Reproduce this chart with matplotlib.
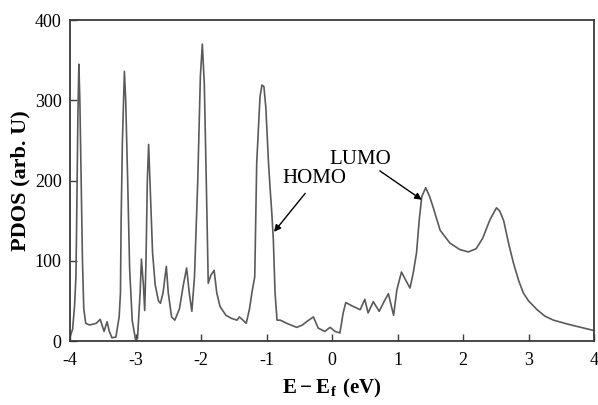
import matplotlib
matplotlib.use("Agg")
import matplotlib.pyplot as plt

plt.rcParams["font.family"] = "Liberation Serif"
plt.rcParams["axes.unicode_minus"] = False
plt.rcParams["mathtext.fontset"] = "custom"
plt.rcParams["mathtext.rm"] = "Liberation Serif:bold"
plt.rcParams["mathtext.bf"] = "Liberation Serif:bold"

# ── Data ──────────────────────────────────────────────────────────────────────
ENERGY = [
    -4.00, -3.96, -3.93, -3.91, -3.90, -3.88, -3.865, -3.85, -3.83, -3.81,
    -3.79, -3.76, -3.70, -3.60, -3.54, -3.48, -3.435, -3.40, -3.36, -3.30,
    -3.25, -3.23, -3.22, -3.20, -3.17, -3.15, -3.12, -3.09, -3.05, -3.00,
    -2.97, -2.93, -2.91, -2.88, -2.86, -2.84, -2.82, -2.80, -2.78, -2.74,
    -2.70, -2.65, -2.62, -2.58, -2.53, -2.50, -2.45, -2.40, -2.33, -2.27,
    -2.22, -2.18, -2.14, -2.10, -2.05, -2.01, -1.98, -1.95, -1.92, -1.89,
    -1.85, -1.80, -1.76, -1.71, -1.62, -1.53, -1.45, -1.415, -1.36, -1.31,
    -1.26, -1.22, -1.18, -1.15, -1.10, -1.07, -1.04, -1.01, -0.97, -0.947,
    -0.92, -0.896, -0.87, -0.84, -0.79, -0.69, -0.54, -0.45, -0.39, -0.285,
    -0.21, -0.16, -0.11, -0.03, 0.046, 0.12, 0.17, 0.21, 0.30, 0.43,
    0.50, 0.55, 0.63, 0.72, 0.80, 0.86, 0.94, 0.99, 1.06, 1.13,
    1.19, 1.24, 1.29, 1.33, 1.37, 1.43, 1.49, 1.55, 1.65, 1.80,
    1.95, 2.08, 2.20, 2.30, 2.41, 2.51, 2.56, 2.62, 2.70, 2.77,
    2.85, 2.92, 3.00, 3.13, 3.25, 3.38, 3.60, 3.80, 4.00,
]
PDOS = [
    5, 15, 45, 80, 140, 280, 345, 300, 200, 100,
    40, 22, 20, 22, 27, 12, 24, 12, 4, 5,
    30, 60, 150, 250, 336, 300, 200, 90, 25, 2,
    3, 60, 102, 70, 38, 100, 200, 245, 200, 110,
    70, 50, 47, 60, 93, 60, 30, 26, 40, 70,
    91, 60, 37, 80, 200, 330, 370, 320, 200, 72,
    82, 88, 60, 43, 32, 28, 26, 30, 26, 22,
    40, 62, 80, 222, 304, 319, 317, 290, 222, 192,
    160, 126, 60, 26, 26, 22, 17, 20, 24, 30,
    16, 14, 12, 17, 12, 10, 35, 48, 44, 39,
    52, 35, 49, 37, 50, 59, 32, 64, 86, 75,
    66, 85, 110, 150, 180, 191, 180, 165, 138, 122,
    114, 111, 115, 128, 151, 166, 162, 150, 120, 97,
    75, 60, 50, 39, 31, 26, 21, 17, 13,
]

X_TICKS = [-4, -3, -2, -1, 0, 1, 2, 3, 4]
Y_TICKS = [0, 100, 200, 300, 400]

LINE_COLOR = "#5a5a5a"
SPINE_COLOR = "#3a3a3a"

fig = plt.figure(figsize=(5.98, 4.05), dpi=100)
ax = fig.add_axes([0.1171, 0.158, 0.8763, 0.7926])

ax.plot(ENERGY, PDOS, color=LINE_COLOR, linewidth=1.2)

ax.set_xlim(-4, 4)
ax.set_ylim(0, 400)
ax.set_xticks(X_TICKS)
ax.set_yticks(Y_TICKS)
ax.tick_params(direction="in", length=5, width=1, color=SPINE_COLOR,
               labelsize=13, top=False, right=False)
ax.tick_params(axis="x", pad=8)
ax.tick_params(axis="y", pad=6)
for sp in ax.spines.values():
    sp.set_color(SPINE_COLOR)
    sp.set_linewidth(1.3)

ax.set_xlabel(r"$\mathrm{E-E_f\ (eV)}$", fontsize=15, labelpad=6)
ax.set_ylabel("PDOS (arb. U)", fontsize=16, fontweight="bold", labelpad=3)

arrow = dict(arrowstyle="-|>", color="black", linewidth=1.0,
             mutation_scale=10, shrinkA=0, shrinkB=0)
ax.annotate("HOMO", xy=(-0.267, 202), ha="center", va="center", fontsize=15)
ax.annotate("", xy=(-0.886, 136), xytext=(-0.41, 184), arrowprops=arrow)
ax.annotate("LUMO", xy=(0.43, 226), ha="center", va="center", fontsize=15)
ax.annotate("", xy=(1.37, 176), xytext=(0.73, 212), arrowprops=arrow)

fig.savefig("out.png", dpi=100)
